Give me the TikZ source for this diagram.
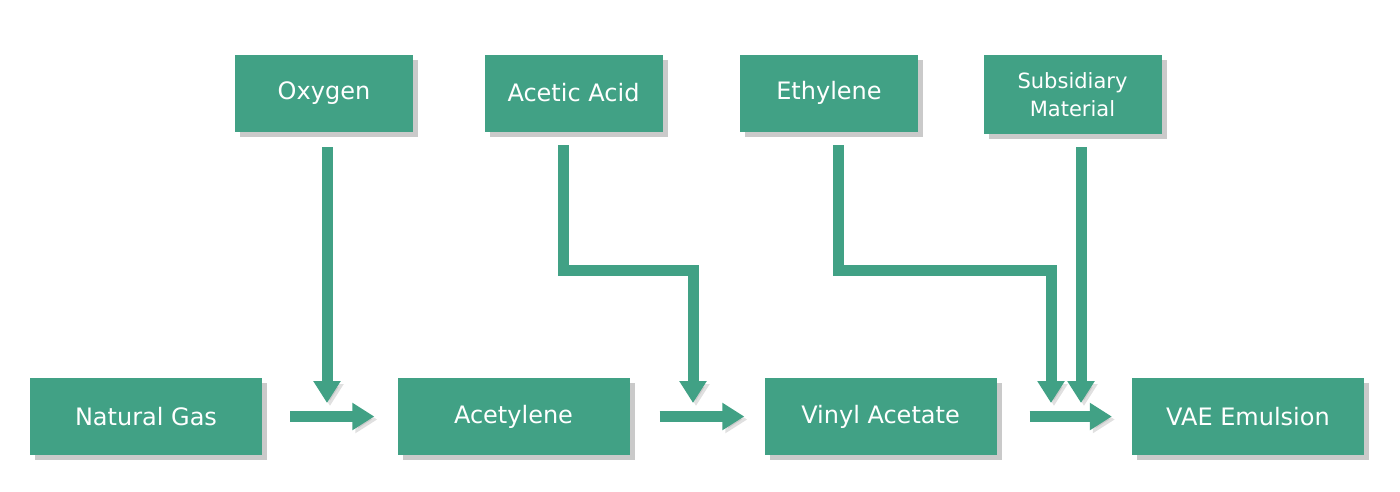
\documentclass[tikz,border=0pt]{standalone}
\usepackage{fontspec}
\setmainfont{DejaVu Sans}
\usetikzlibrary{arrows.meta,shadows,calc}
\definecolor{tg}{HTML}{41A185}
\tikzset{
  box/.style={fill=tg,text=white,minimum width=178pt,minimum height=77pt,font=\fontsize{24}{29}\selectfont,align=center,inner sep=0pt,
    drop shadow={shadow xshift=5pt,shadow yshift=-5pt,opacity=0.35,fill=black!60}},
  wbox/.style={box,minimum width=232pt},
  flow/.style={draw=tg,line width=11pt,line join=miter,-{Triangle[width=26pt,length=22pt]},
    preaction={draw=black!40,opacity=0.3,transform canvas={shift={(3pt,-3pt)}}}}
}
\begin{document}
\begin{tikzpicture}[x=1pt,y=-1pt]
\useasboundingbox (0,0) rectangle (1400,491);
\node[box] (oxy) at (324,93) {Oxygen};
\node[box] (aa) at (573.5,93) {Acetic Acid};
\node[box] (eth) at (829,93) {Ethylene};
\node[box,minimum height=79pt,font=\fontsize{21}{28}\selectfont] (sub) at (1072.5,94.5) {Subsidiary\\Material};
\node[wbox] (ng) at (146,416.5) {Natural Gas};
\node[wbox] (ac) at (513.5,416.5) {Acetylene};
\node[wbox] (va) at (880.5,416.5) {Vinyl Acetate};
\node[wbox] (vae) at (1248,416.5) {VAE Emulsion};
\coordinate (m1) at (363,417);
\coordinate (m2) at (731,417);
\coordinate (m3) at (1100,417);
\draw[flow] ([xshift=28pt]ng.east) -- ([xshift=-23pt]ac.west);
\draw[flow] ([xshift=30pt]ac.east) -- ([xshift=-20pt]va.west);
\draw[flow] ([xshift=33pt]va.east) -- ([xshift=-20pt]vae.west);
\draw[flow] (327,147) -- (327,403);
\draw[flow] (563,145) -- (563,270) -- (693,270) -- (693,403);
\draw[flow] (838,145) -- (838,270) -- (1051,270) -- (1051,403);
\draw[flow] (1081,147) -- (1081,403);
\end{tikzpicture}
\end{document}
